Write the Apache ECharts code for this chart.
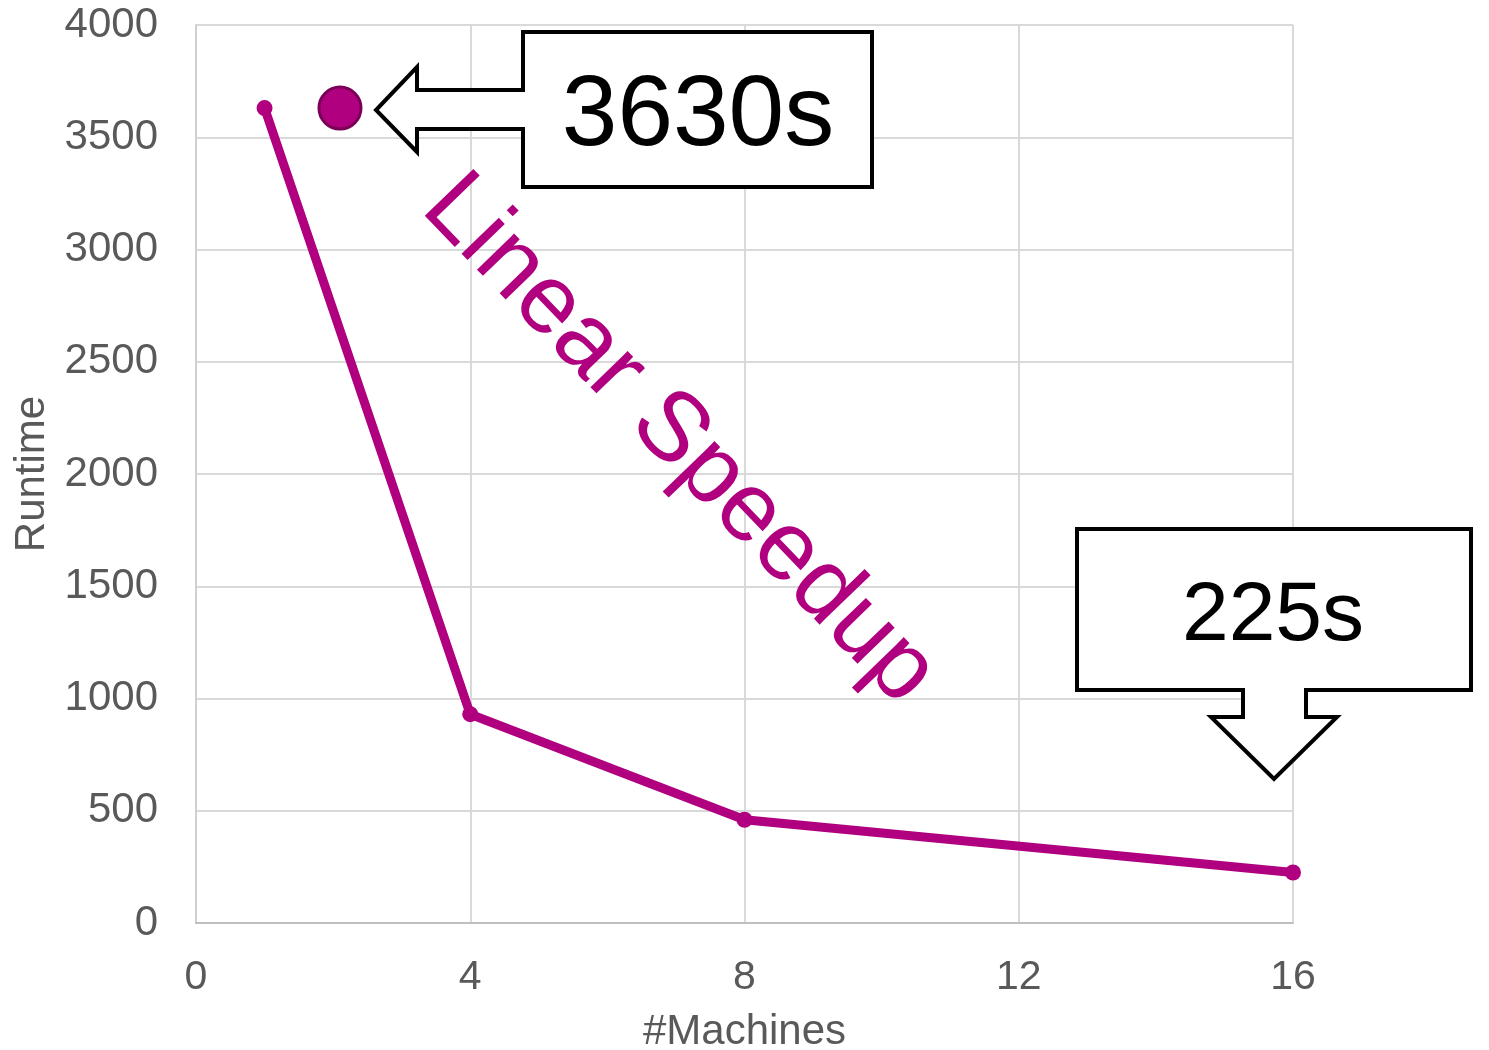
<!DOCTYPE html>
<html>
<head>
<meta charset="utf-8">
<title>Runtime vs #Machines</title>
<script src="https://cdn.jsdelivr.net/npm/echarts@6/dist/echarts.min.js"></script>
<style>
  html, body { margin: 0; padding: 0; background: #ffffff; }
  #chart { width: 1489px; height: 1050px; }
</style>
</head>
<body>
<div id="chart"></div>
<script>
// Measured runtimes (seconds) by cluster size
const machines = [1, 4, 8, 16];
const runtime = [3630, 930, 460, 225];

// Reference marker for the single-machine runtime
const singleMarkerX = [2.1];
const singleMarkerY = [3630];

// Axis ticks
const xTicks = [0, 4, 8, 12, 16];
const yTicks = [0, 500, 1000, 1500, 2000, 2500, 3000, 3500, 4000];

// Callout texts
const calloutTop = '3630s';
const calloutBottom = '225s';
const trendText = 'Linear Speedup';

const FONT = '"Liberation Sans", Arial, sans-serif';
const PURPLE = '#b0007f';
const LABEL = '#595959';

const chart = echarts.init(document.getElementById('chart'), null, { renderer: 'canvas' });

const lineData = machines.map((m, i) => [m, runtime[i]]);
const markerData = singleMarkerX.map((x, i) => [x, singleMarkerY[i]]);

const option = {
  backgroundColor: '#ffffff',
  animation: false,
  grid: {
    left: 196, right: 196, top: 25, bottom: 127,
    containLabel: false,
    outerBoundsMode: 'none'
  },
  xAxis: {
    type: 'value',
    min: xTicks[0],
    max: xTicks[xTicks.length - 1],
    interval: 4,
    name: '#Machines',
    nameLocation: 'middle',
    nameGap: 88,
    nameTextStyle: { fontFamily: FONT, fontSize: 42, color: LABEL },
    axisLine: { show: true, lineStyle: { color: '#bfbfbf', width: 2 } },
    axisTick: { show: false },
    axisLabel: {
      fontFamily: FONT, fontSize: 41, color: LABEL, margin: 34,
      formatter: v => String(v)
    },
    splitLine: { show: true, lineStyle: { color: '#d9d9d9', width: 2 } }
  },
  yAxis: {
    type: 'value',
    min: yTicks[0],
    max: yTicks[yTicks.length - 1],
    interval: 500,
    name: 'Runtime',
    nameLocation: 'middle',
    nameGap: 140,
    nameRotate: 90,
    nameTextStyle: { fontFamily: FONT, fontSize: 42, color: LABEL },
    axisLine: { show: true, lineStyle: { color: '#d0d0d0', width: 2 } },
    axisTick: { show: false },
    axisLabel: {
      fontFamily: FONT, fontSize: 42, color: LABEL, margin: 38,
      formatter: v => String(v)
    },
    splitLine: { show: true, lineStyle: { color: '#d9d9d9', width: 2 } }
  },
  series: [
    {
      type: 'line',
      data: lineData,
      symbol: 'circle',
      symbolSize: 16,
      showAllSymbol: true,
      lineStyle: { color: PURPLE, width: 9 },
      itemStyle: { color: PURPLE },
      z: 3
    },
    {
      type: 'scatter',
      data: markerData,
      symbol: 'circle',
      symbolSize: 42,
      itemStyle: { color: PURPLE, opacity: 1, borderColor: '#7a0057', borderWidth: 3 },
      z: 4
    }
  ],
  graphic: [
    {
      type: 'polygon',
      z: 100,
      shape: {
        points: [
          [523, 32], [872, 32], [872, 187], [523, 187], [523, 129],
          [417, 129], [417, 152], [376, 110], [417, 67], [417, 90], [523, 90]
        ]
      },
      style: { fill: '#ffffff', stroke: '#000000', lineWidth: 4, lineJoin: 'miter' }
    },
    {
      type: 'text',
      z: 101,
      x: 698,
      y: 117,
      style: {
        text: calloutTop,
        fontFamily: FONT,
        fontSize: 100,
        fill: '#000000',
        align: 'center',
        verticalAlign: 'middle'
      }
    },
    {
      type: 'polygon',
      z: 100,
      shape: {
        points: [
          [1077, 529], [1471, 529], [1471, 690], [1306, 690], [1306, 717],
          [1337, 717], [1274, 779], [1211, 717], [1243, 717], [1243, 690], [1077, 690]
        ]
      },
      style: { fill: '#ffffff', stroke: '#000000', lineWidth: 4, lineJoin: 'miter' }
    },
    {
      type: 'text',
      z: 101,
      x: 1273,
      y: 617,
      style: {
        text: calloutBottom,
        fontFamily: FONT,
        fontSize: 84,
        fill: '#000000',
        align: 'center',
        verticalAlign: 'middle'
      }
    },
    {
      type: 'text',
      z: 101,
      x: 679,
      y: 440,
      rotation: -46 * Math.PI / 180,
      style: {
        text: trendText,
        fontFamily: FONT,
        fontSize: 98,
        fill: PURPLE,
        align: 'center',
        verticalAlign: 'middle'
      }
    }
  ]
};

chart.setOption(option);
</script>
</body>
</html>
